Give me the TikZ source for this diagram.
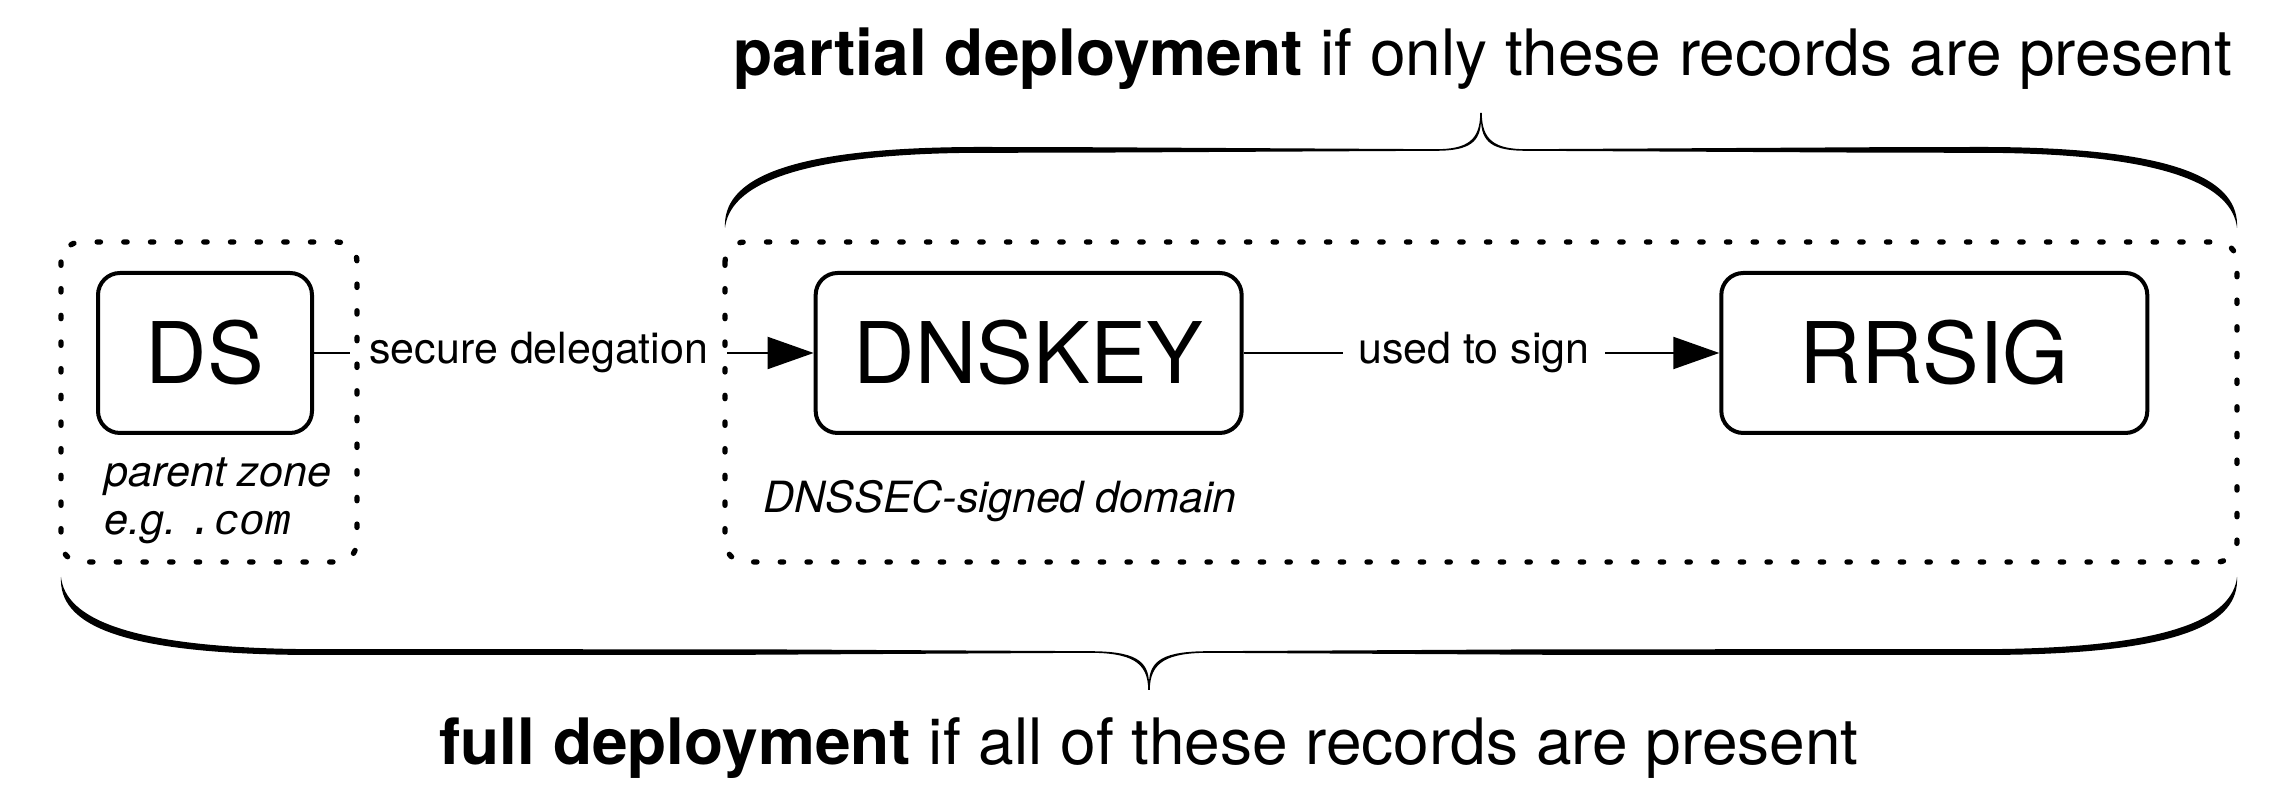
\documentclass[tikz,border=0pt]{standalone}
\usepackage{fontspec}
\setmainfont{TeX Gyre Heros}
\setmonofont{Liberation Mono}
\usetikzlibrary{positioning, arrows.meta}

% calligraphic curly brace: left x, right x, end y, line y, tip y, cusp half width
\newcommand{\recordbrace}[6]{%
  \pgfmathsetmacro{\bm}{(#1+#2)/2}%
  \pgfmathsetmacro{\bs}{sign(#4-#3)}%
  \fill (#1,#3) .. controls ({#1-2.5},{#3+\bs*47}) and ({#1+56},{#4+\bs*3.4}) .. ({#1+260},{#4+\bs*3})
    -- ({\bm-400},{#4+\bs*2.8}) -- ({\bm-#6},{#4+\bs*0.8})
    .. controls ({\bm-0.3*#6},{#4+\bs*0.8}) and ({\bm-0.8},{#4+\bs*10}) .. ({\bm-0.8},#5)
    -- ({\bm+0.8},#5) .. controls ({\bm+0.8},{#4+\bs*10}) and ({\bm+0.3*#6},{#4+\bs*0.8}) .. ({\bm+#6},{#4+\bs*0.8})
    -- ({\bm+400},{#4+\bs*2.8}) -- ({#2-260},{#4+\bs*3})
    .. controls ({#2-56},{#4+\bs*3.4}) and ({#2+2.5},{#3+\bs*47}) .. (#2,#3)
    .. controls ({#2-4.5},{#3+\bs*41}) and ({#2-66},{#4-\bs*2.8}) .. ({#2-260},{#4-\bs*2.8})
    -- ({\bm+400},{#4-\bs*2.7}) -- ({\bm+#6},{#4-\bs*0.8})
    .. controls ({\bm+0.25*#6},{#4-\bs*0.8}) and (\bm,{#4+\bs*8}) .. (\bm,{#5-\bs*6})
    .. controls (\bm,{#4+\bs*8}) and ({\bm-0.25*#6},{#4-\bs*0.8}) .. ({\bm-#6},{#4-\bs*0.8})
    -- ({\bm-400},{#4-\bs*2.7}) -- ({#1+260},{#4-\bs*2.8})
    .. controls ({#1+66},{#4-\bs*2.8}) and ({#1+4.5},{#3+\bs*41}) .. (#1,#3) -- cycle;%
}

\begin{document}
\begin{tikzpicture}[x=0.3pt, y=-0.3pt,
    record/.style={rectangle, draw, line width=1.2pt, rounded corners=6.6pt, minimum height=48pt, font=\fontsize{25.5}{30}\selectfont},
    zone/.style={draw, line width=1.6pt, line cap=round, dash pattern=on 1pt off 7pt, rounded corners=6pt},
    edgelabel/.style={fill=white, inner ysep=2pt, font=\fontsize{12.9}{15}\selectfont},
    note/.style={inner sep=0pt, align=left, font=\fontsize{12.9}{14.4}\selectfont\itshape},
    caption/.style={inner sep=0pt, font=\fontsize{19.2}{23}\selectfont}]
        \useasboundingbox (0,0) rectangle (2284,792);
        \node[record, minimum width=64.2pt] (ds) at (205,353) {DS};
        \node[record, minimum width=127.8pt, right=149.9pt of ds] (dnskey) {DNSKEY};
        \node[record, minimum width=127.8pt, right=142.7pt of dnskey] (rrsig) {RRSIG};
        % Arrows
        \draw[-{Triangle[length=13.8pt,width=9.6pt]}, line width=0.6pt] (ds) -- (dnskey) node[edgelabel, pos=0.45, inner xsep=5.7pt] {secure delegation};
        \draw[-{Triangle[length=13.8pt,width=9.6pt]}, line width=0.6pt] (dnskey) -- (rrsig) node[edgelabel, pos=0.484, inner xsep=4.5pt] {used to sign};
        % Zones
        \draw[zone] (61,242) rectangle (357,562);
        \draw[zone] (725,242) rectangle (2237,562);
        \node[note, anchor=base west] (parent) at (104,535) {parent zone\\e.g.\ {\ttfamily .com}};
        \node[note, anchor=base west] (signed) at (763,513) {DNSSEC-signed domain};
        % Braces
        \recordbrace{725}{2237}{228}{150}{113}{45}
        \recordbrace{61}{2237}{577}{652}{690}{60}
        \node[caption, anchor=base] (partial) at (1483,76) {\textbf{partial deployment} if only these records are present};
        \node[caption, anchor=base] (full) at (1149,765) {\textbf{full deployment} if all of these records are present};
    \end{tikzpicture}
\end{document}
